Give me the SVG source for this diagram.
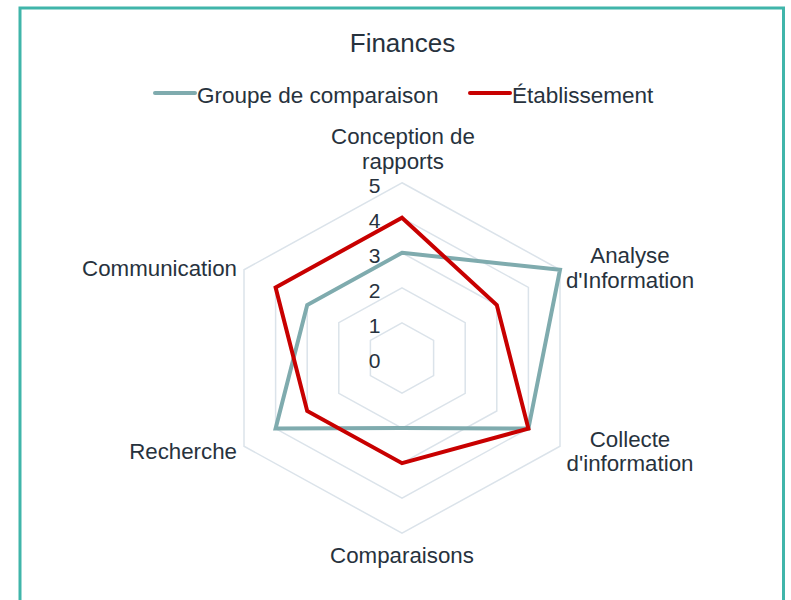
<svg xmlns="http://www.w3.org/2000/svg" width="791" height="600" viewBox="0 0 791 600">
<style>
  text { font-family: "Liberation Sans", Arial, Helvetica, sans-serif; fill: #27323d; }
  .title { font-size: 26px; text-anchor: middle; }
  .leg { font-size: 22.5px; }
  .lbl { font-size: 22.3px; }
  .tick { font-size: 21px; text-anchor: middle; }
  .grid { fill: none; stroke: #dbe3ea; stroke-width: 1.5; }
  .series { fill: none; stroke-width: 4; stroke-linejoin: miter; }
  .teal { stroke: #7fabae; }
  .red { stroke: #c80000; }
</style>
<rect x="0" y="0" width="791" height="600" fill="#ffffff"/>
<rect x="20" y="8" width="763.5" height="620" fill="#ffffff" stroke="#40b5aa" stroke-width="3"/>

<g id="title">
  <text class="title" x="402.5" y="52">Finances</text>
</g>

<g id="legend">
  <line x1="155" y1="93" x2="195" y2="93" stroke="#7fabae" stroke-width="4" stroke-linecap="round"/>
  <text class="leg" x="197" y="103">Groupe de comparaison</text>
  <line x1="470" y1="93" x2="510" y2="93" stroke="#c80000" stroke-width="4" stroke-linecap="round"/>
  <text class="leg" x="512" y="103">Établissement</text>
</g>

<g id="grid">
  <polygon class="grid" points="402,322.95 433.6,340.35 433.6,375.65 402,393.05 370.4,375.65 370.4,340.35"/>
  <polygon class="grid" points="402,287.9 465.2,322.7 465.2,393.3 402,428.1 338.8,393.3 338.8,322.7"/>
  <polygon class="grid" points="402,252.85 496.8,305.05 496.8,410.95 402,463.15 307.2,410.95 307.2,305.05"/>
  <polygon class="grid" points="402,217.8 528.4,287.4 528.4,428.6 402,498.2 275.6,428.6 275.6,287.4"/>
  <polygon class="grid" points="402,182.75 560,269.75 560,446.25 402,533.25 244,446.25 244,269.75"/>
</g>

<g id="ticks">
  <text class="tick" x="374.5" y="368.3">0</text>
  <text class="tick" x="374.5" y="333.3">1</text>
  <text class="tick" x="374.5" y="298.3">2</text>
  <text class="tick" x="374.5" y="263.3">3</text>
  <text class="tick" x="374.5" y="228.3">4</text>
  <text class="tick" x="374.5" y="193.3">5</text>
</g>

<g id="connectors">
  <polygon id="series-groupe" class="series teal" points="402,252.85 560,269.75 528.4,428.6 402,428.1 275.6,428.6 307.2,305.05"/>
  <polygon id="series-etablissement" class="series red" points="402,217.8 496.8,305.05 528.4,428.6 402,463.15 307.2,410.95 275.6,287.4"/>
</g>

<g id="node-conception">
  <text class="lbl" x="403" y="144" text-anchor="middle">Conception de</text>
  <text class="lbl" x="403" y="168.5" text-anchor="middle">rapports</text>
</g>
<g id="node-analyse">
  <text class="lbl" x="630" y="263" text-anchor="middle">Analyse</text>
  <text class="lbl" x="630" y="288" text-anchor="middle">d'Information</text>
</g>
<g id="node-collecte">
  <text class="lbl" x="630" y="446.5" text-anchor="middle">Collecte</text>
  <text class="lbl" x="630" y="471" text-anchor="middle">d'information</text>
</g>
<g id="node-comparaisons">
  <text class="lbl" x="402" y="562.5" text-anchor="middle">Comparaisons</text>
</g>
<g id="node-recherche">
  <text class="lbl" x="237" y="459" text-anchor="end">Recherche</text>
</g>
<g id="node-communication">
  <text class="lbl" x="237" y="276" text-anchor="end">Communication</text>
</g>
</svg>
